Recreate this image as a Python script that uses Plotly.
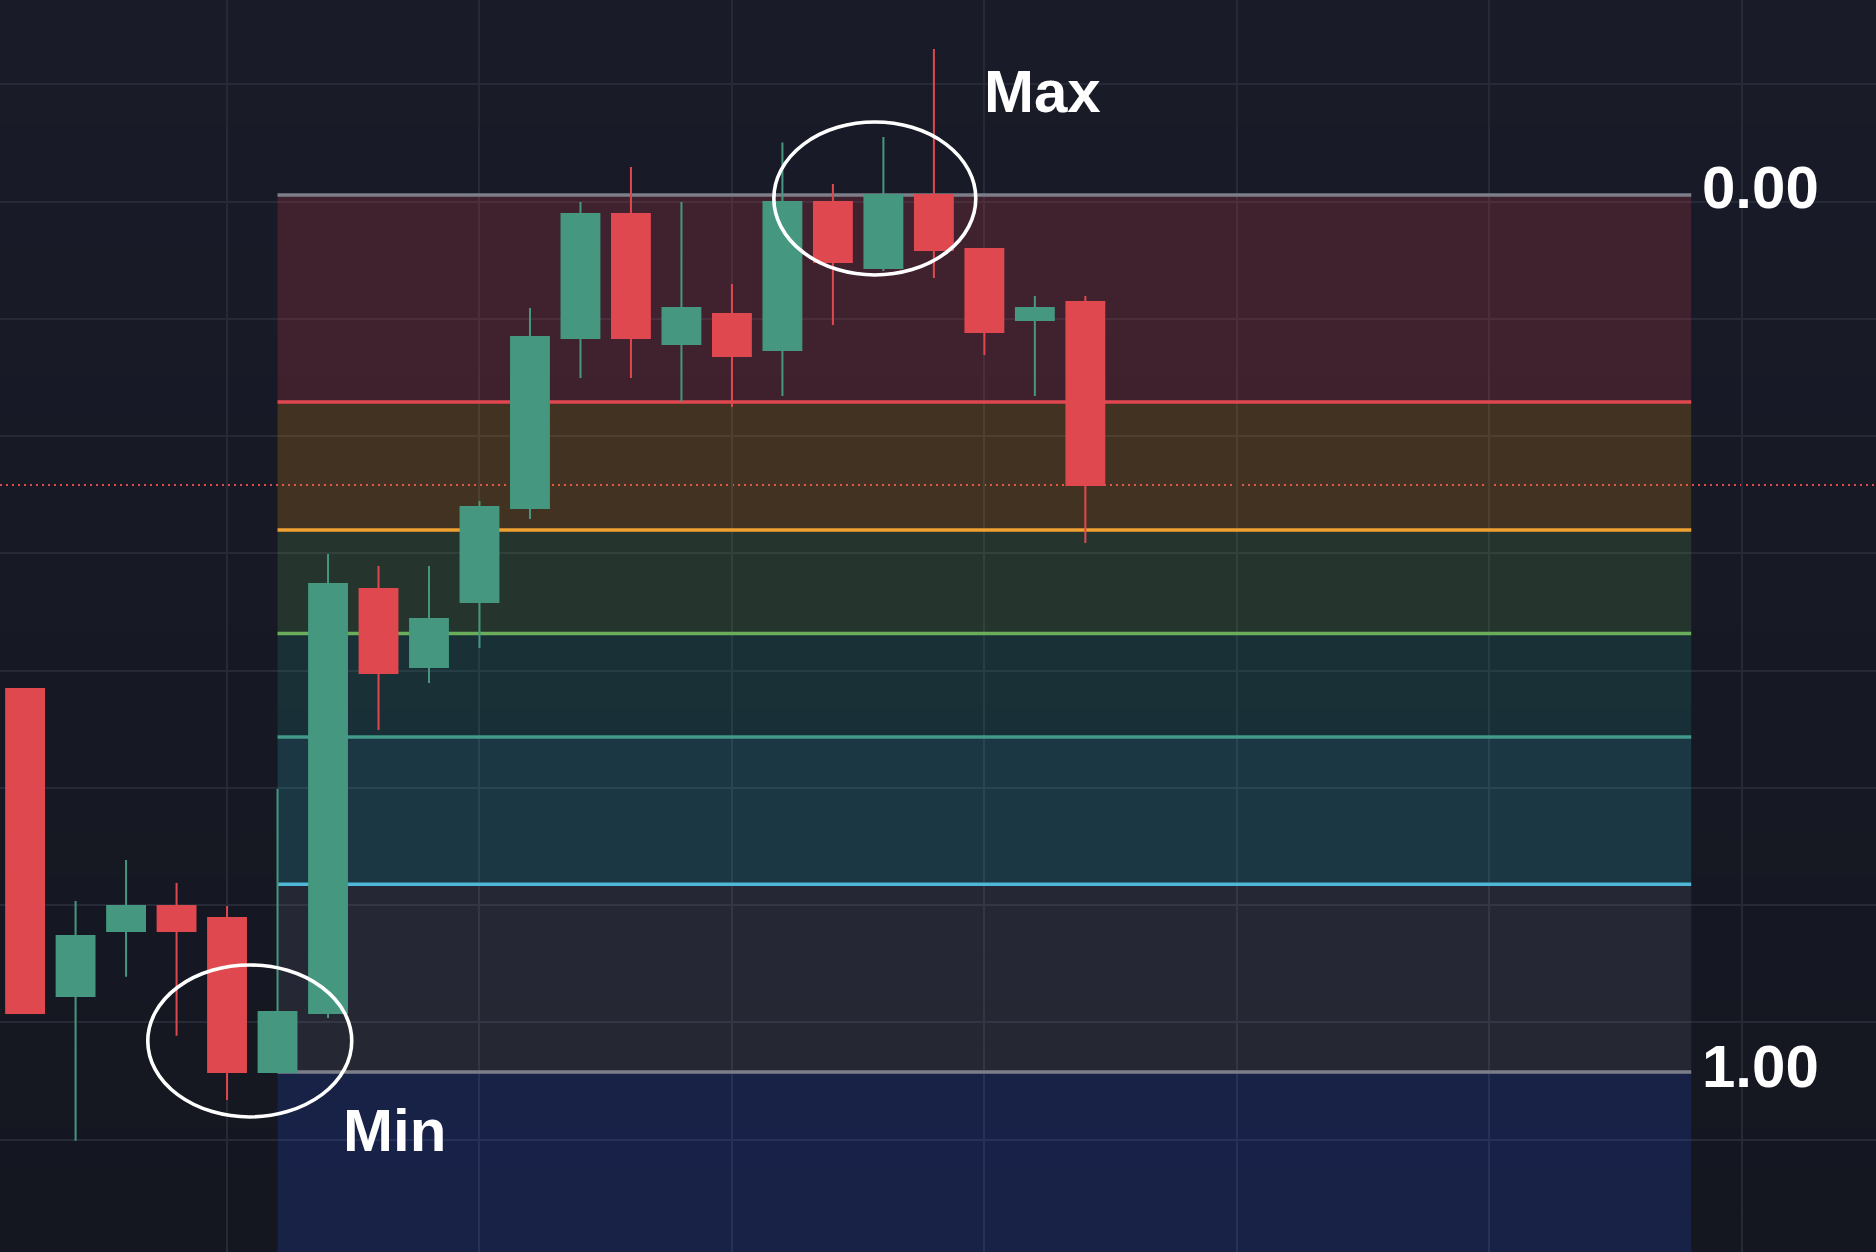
import plotly.graph_objects as go

# ---------------- data ----------------
idx = list(range(22))
opens = [128.44, 102.26, 107.80, 109.93, 108.91, 95.77, 100.81, 136.97, 130.32, 135.86, 143.88,
         158.38, 168.95, 157.86, 160.42, 157.35, 169.97, 164.35, 170.57, 165.97, 159.91, 161.45]
highs = [128.44, 110.36, 113.85, 111.89, 109.93, 119.91, 139.95, 138.93, 138.93, 144.47, 160.93,
         169.97, 172.96, 169.97, 162.98, 175.05, 171.51, 175.52, 183.02, 165.97, 161.96, 161.96]
lows = [100.81, 89.91, 103.90, 98.87, 93.39, 95.77, 100.38, 124.94, 128.95, 131.94, 142.94,
        154.96, 154.96, 152.92, 152.49, 153.43, 159.48, 164.09, 163.49, 156.93, 153.43, 140.89]
closes = [100.81, 107.37, 109.93, 107.80, 95.77, 100.89, 137.39, 129.80, 134.41, 143.96, 158.46,
          168.95, 158.38, 160.93, 156.84, 169.97, 164.86, 170.57, 165.88, 158.89, 160.93, 145.84]

fib_levels = [0.0, 0.236, 0.382, 0.5, 0.618, 0.786, 1.0]
fib_line_colors = ['#7c7f8a', '#e0474f', '#f0a030', '#6aae5b', '#43998a', '#4fb8d6', '#7c7f8a']
fib_band_colors = ['rgba(224,66,82,0.2)', 'rgba(239,151,22,0.2)', 'rgba(94,166,87,0.2)',
                   'rgba(39,141,137,0.2)', 'rgba(49,181,202,0.2)', 'rgba(104,106,127,0.2)']
below_band_color = 'rgba(39,81,227,0.2)'
label_texts = ['0.00', '1.00']

# ---------------- derived ----------------
fib_max = max(closes)
fib_min = min(closes)
max_idx = closes.index(fib_max)
min_idx = closes.index(fib_min)
fib_x0 = min_idx + 1
fib_x1 = 33
x_range = [-0.497, 36.66]
y_range = [80.42, 187.20]

UP = '#45987f'
DOWN = '#e0484f'

fig = go.Figure()
fig.add_trace(go.Candlestick(
    x=idx, open=opens, high=highs, low=lows, close=closes,
    increasing=dict(line=dict(color=UP, width=2), fillcolor=UP),
    decreasing=dict(line=dict(color=DOWN, width=2), fillcolor=DOWN),
    whiskerwidth=0, hoverinfo='skip', showlegend=False,
))

shapes = []
# subtle vertical background gradient
n_strips = 30
top_c = (25, 28, 40)
bot_c = (20, 22, 32)
for k in range(n_strips):
    t = k / (n_strips - 1)
    c = tuple(round(bot_c[j] + (top_c[j] - bot_c[j]) * t) for j in range(3))
    shapes.append(dict(type='rect', xref='paper', yref='paper', x0=0, x1=1,
                       y0=k / n_strips, y1=(k + 1) / n_strips + 0.002,
                       fillcolor='rgb(%d,%d,%d)' % c, line=dict(width=0), layer='below'))


def level_price(l):
    return fib_max - l * (fib_max - fib_min)


for k in range(len(fib_levels) - 1):
    shapes.append(dict(type='rect', xref='x', yref='y', x0=fib_x0, x1=fib_x1,
                       y0=level_price(fib_levels[k + 1]), y1=level_price(fib_levels[k]),
                       fillcolor=fib_band_colors[k], line=dict(width=0), layer='between'))
shapes.append(dict(type='rect', xref='x', yref='y', x0=fib_x0, x1=fib_x1,
                   y0=y_range[0] - 5, y1=fib_min,
                   fillcolor=below_band_color, line=dict(width=0), layer='between'))
for l, c in zip(fib_levels, fib_line_colors):
    shapes.append(dict(type='line', xref='x', yref='y', x0=fib_x0, x1=fib_x1,
                       y0=level_price(l), y1=level_price(l),
                       line=dict(color=c, width=3.5), layer='between'))

# current price dotted line
shapes.append(dict(type='line', xref='paper', yref='y', x0=0, x1=1,
                   y0=closes[-1], y1=closes[-1],
                   line=dict(color=DOWN, width=2, dash='2px,4px'), layer='between'))

# ellipses around max / min
shapes.append(dict(type='circle', xref='x', yref='y',
                   x0=max_idx - 2.17, x1=max_idx + 1.83,
                   y0=fib_max - 6.82, y1=fib_max + 6.23,
                   line=dict(color='white', width=3.6), layer='above'))
shapes.append(dict(type='circle', xref='x', yref='y',
                   x0=min_idx - 1.57, x1=min_idx + 2.47,
                   y0=fib_min - 3.83, y1=fib_min + 9.13,
                   line=dict(color='white', width=3.6), layer='above'))

font = dict(family='Liberation Sans, Arial, sans-serif', size=60, color='white', weight='bold')
annotations = [
    dict(x=fib_x1, y=fib_max, xref='x', yref='y', text=label_texts[0], showarrow=False,
         xanchor='left', yanchor='middle', xshift=9, yshift=7, font=font),
    dict(x=fib_x1, y=fib_min, xref='x', yref='y', text=label_texts[1], showarrow=False,
         xanchor='left', yanchor='middle', xshift=9, yshift=6, font=font),
    dict(x=max_idx + 2.05, y=fib_max + 8.7, xref='x', yref='y', text='Max', showarrow=False,
         xanchor='left', yanchor='middle', xshift=-5, yshift=1, font=font),
    dict(x=min_idx + 2.33, y=fib_min - 5.03, xref='x', yref='y', text='Min', showarrow=False,
         xanchor='left', yanchor='middle', xshift=-4, yshift=1, font=font),
]

axis_common = dict(showticklabels=False, zeroline=False, showline=False, ticks='',
                   gridcolor='#262a36', gridwidth=1.5, fixedrange=True)
fig.update_layout(
    width=1876, height=1252,
    margin=dict(l=0, r=0, t=0, b=0, pad=0),
    paper_bgcolor='#171a25', plot_bgcolor='#171a25',
    showlegend=False,
    boxgap=0.25, boxgroupgap=0,
    xaxis=dict(range=x_range, tick0=4, dtick=5, rangeslider=dict(visible=False), **axis_common),
    yaxis=dict(range=y_range, tick0=170, dtick=10, **axis_common),
    shapes=shapes,
    annotations=annotations,
)

fig.write_html("out.html", config={'displayModeBar': False},
               post_script="document.body.style.margin='0';document.body.style.overflow='hidden';")
